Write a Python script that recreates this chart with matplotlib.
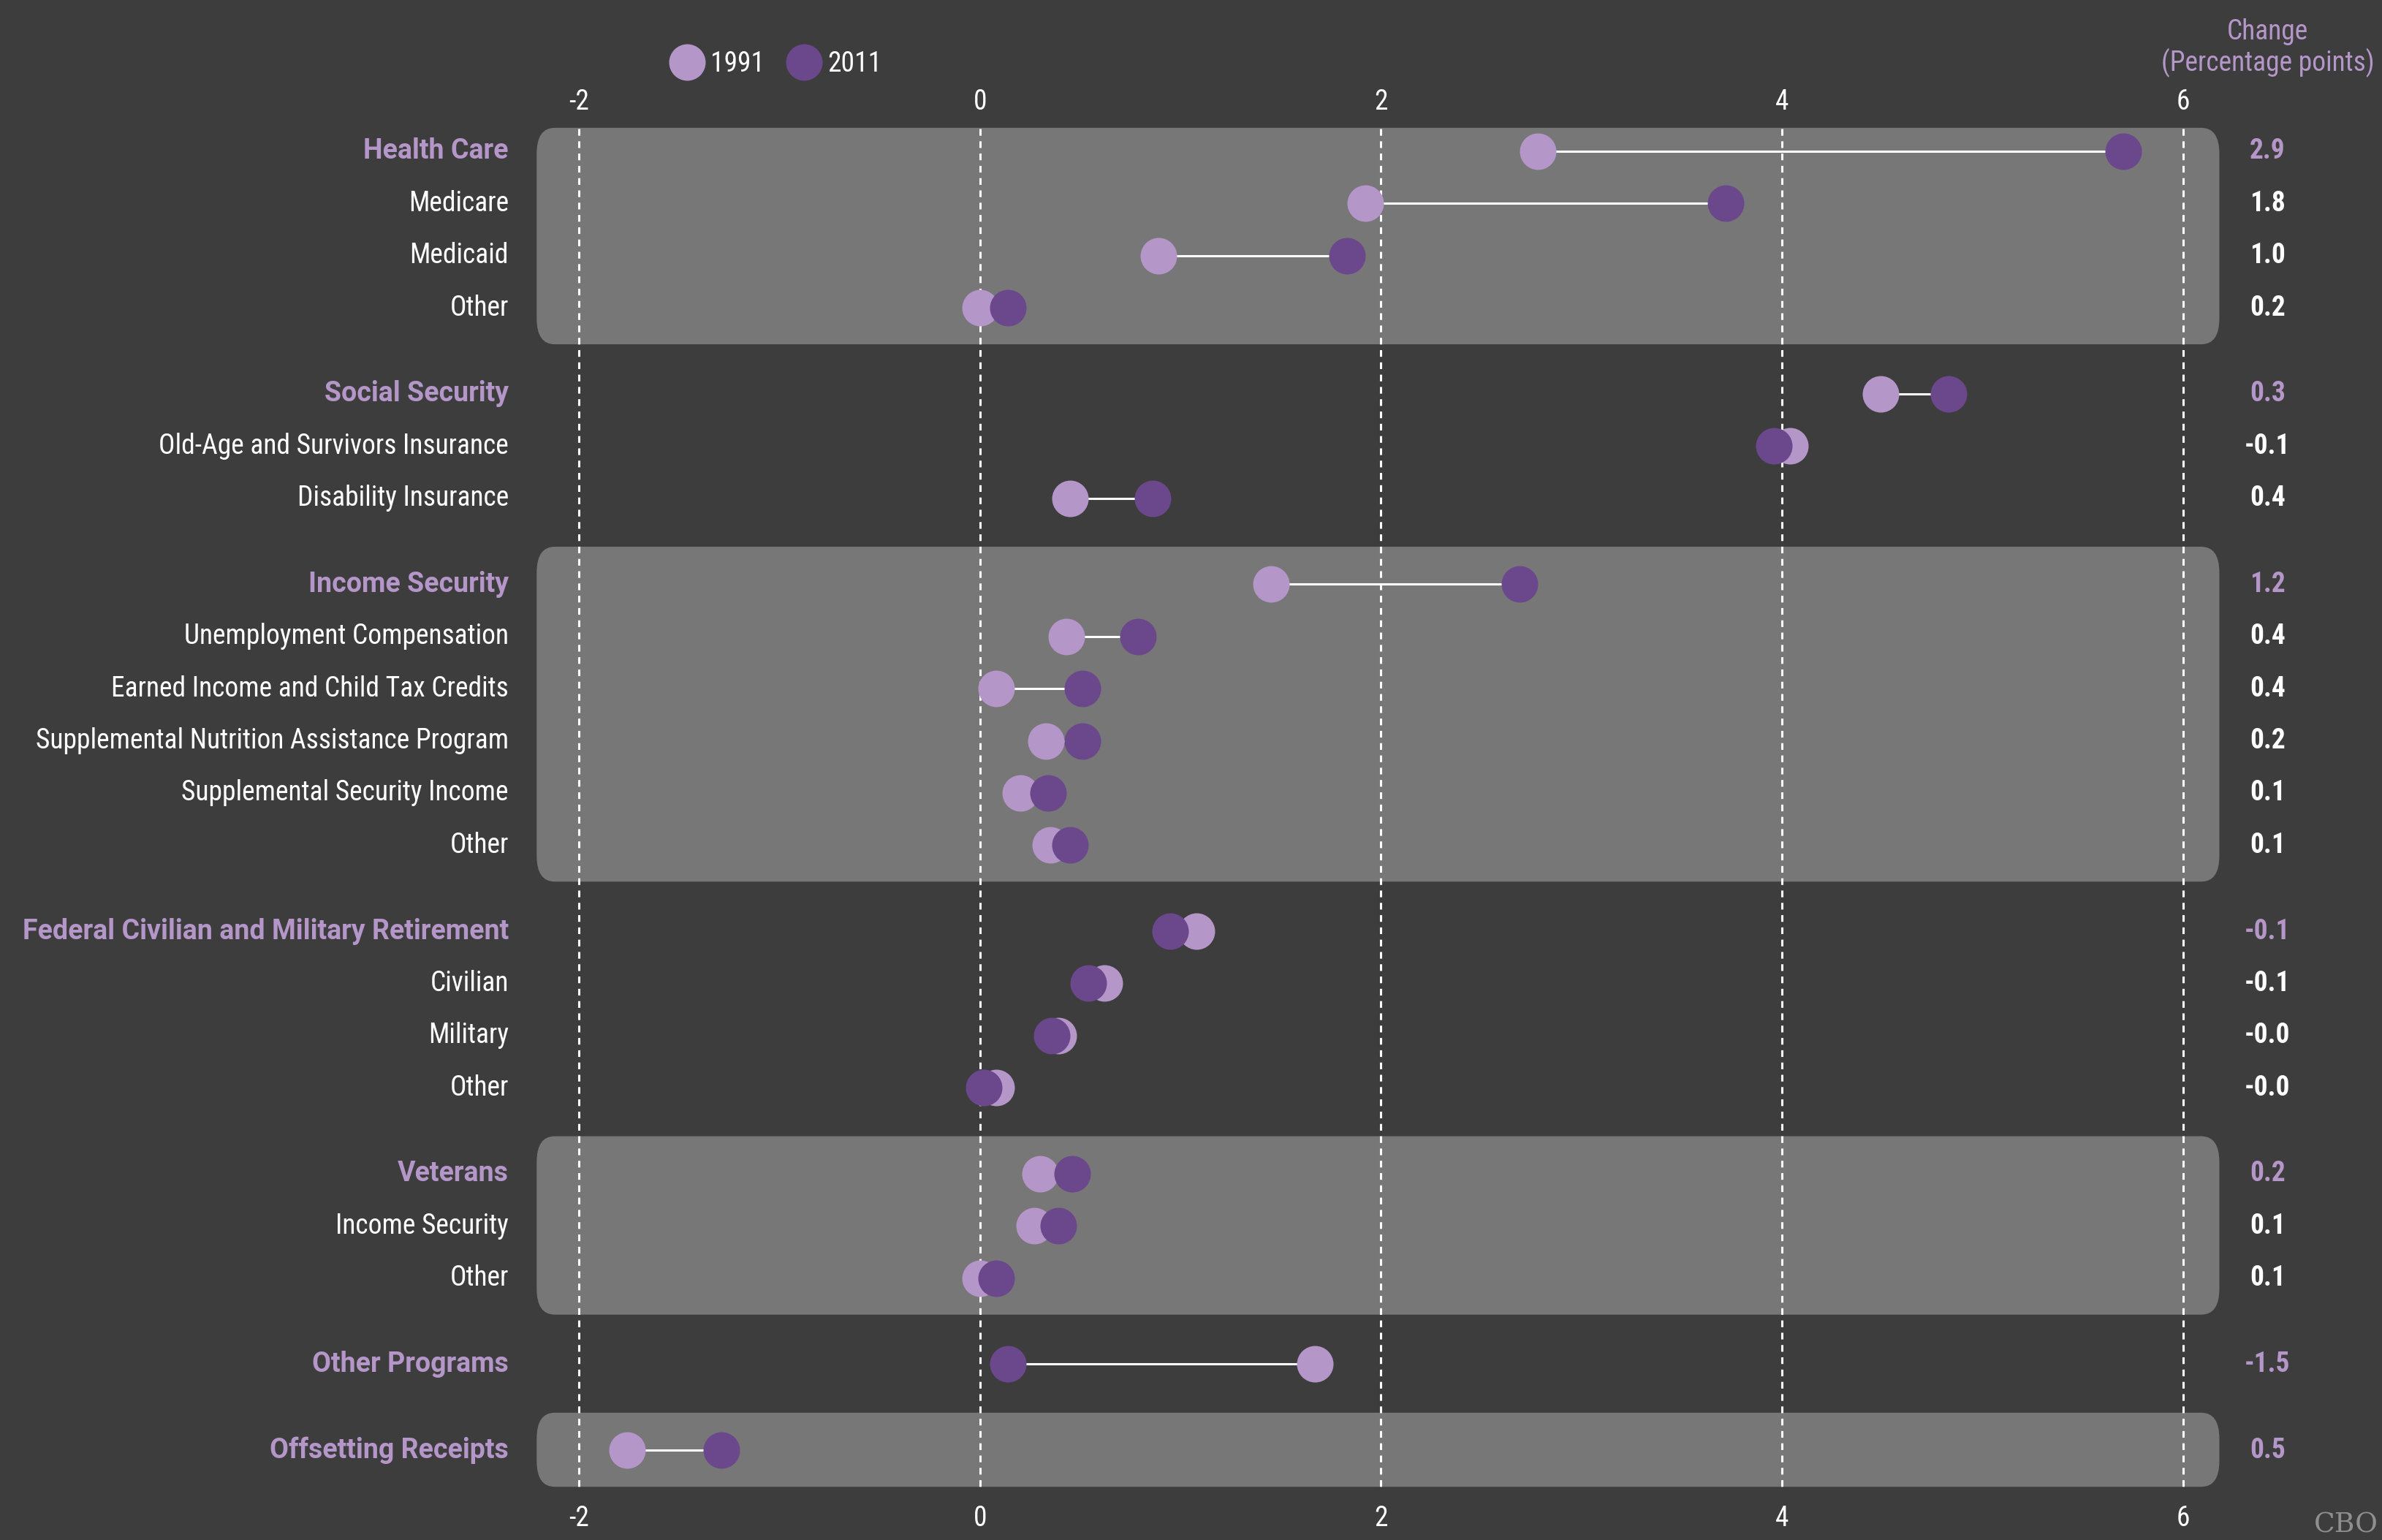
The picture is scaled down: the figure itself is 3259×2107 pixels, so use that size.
import matplotlib.pyplot as plt
from matplotlib.patches import FancyBboxPatch
from matplotlib.lines import Line2D

# programs grouped by category (first entry of each group is the header)
groups = [
    ["Health Care", "Medicare", "Medicaid", "Other"],
    ["Social Security", "Old-Age and Survivors Insurance", "Disability Insurance"],
    ["Income Security", "Unemployment Compensation", "Earned Income and Child Tax Credits",
     "Supplemental Nutrition Assistance Program", "Supplemental Security Income", "Other"],
    ["Federal Civilian and Military Retirement", "Civilian", "Military", "Other"],
    ["Veterans", "Income Security", "Other"],
    ["Other Programs"],
    ["Offsetting Receipts"],
]
shaded = [True, False, True, False, True, False, True]

# outlays as a share of GDP (percent)
v1991 = [2.78, 1.92, 0.89, 0.00,
         4.49, 4.04, 0.45,
         1.45, 0.43, 0.08, 0.33, 0.20, 0.35,
         1.08, 0.62, 0.39, 0.08,
         0.30, 0.27, 0.00,
         1.67,
         -1.76]
v2011 = [5.70, 3.72, 1.83, 0.14,
         4.83, 3.96, 0.86,
         2.69, 0.79, 0.51, 0.51, 0.34, 0.45,
         0.95, 0.54, 0.36, 0.02,
         0.46, 0.39, 0.08,
         0.14,
         -1.29]
change = ["2.9", "1.8", "1.0", "0.2",
          "0.3", "-0.1", "0.4",
          "1.2", "0.4", "0.4", "0.2", "0.1", "0.1",
          "-0.1", "-0.1", "-0.0", "-0.0",
          "0.2", "0.1", "0.1",
          "-1.5",
          "0.5"]
xticks = [-2, 0, 2, 4, 6]

BG = "#3d3d3d"
BAND = "#777777"
LIGHT = "#b496c8"
DARK = "#6b478b"
FONT = ["Roboto Condensed", "DejaVu Sans"]
HEAD_FONT = ["Roboto", "DejaVu Sans"]
FS = 13.5

# row positions: step 1 inside a group, larger gap between groups
GAP = 1.65
ypos, labels, is_head, spans = [], [], [], []
y = 0.0
for g in groups:
    start = y
    for i, name in enumerate(g):
        ypos.append(y)
        labels.append(name)
        is_head.append(i == 0)
        y += 1
    spans.append((start, y - 1))
    y += GAP - 1

fig = plt.figure(figsize=(16.295, 10.535), dpi=200, facecolor=BG)
ax = fig.add_axes([0, 0, 1, 1])
ax.set_facecolor(BG)
ax.set_xlim(-4.886, 6.991)
ax.set_ylim(26.62, -2.90)
ax.axis("off")

# shaded bands behind alternate groups
for (y0, y1), sh in zip(spans, shaded):
    if not sh:
        continue
    top = y0 - (0.45 if y0 == 0 else 0.72)
    bot = y1 + 0.7
    ax.add_patch(FancyBboxPatch((-2.21, top), 6.18 + 2.21, bot - top,
                                boxstyle="round,pad=0,rounding_size=0.09",
                                mutation_aspect=5.5, fc=BAND, ec="none", zorder=1))

# dashed gridlines
ax.vlines(xticks, -0.44, 25.6, colors="white", lw=1.1,
          linestyles=(0, (3, 2.5)), zorder=2)
for t in xticks:
    ax.text(t, -0.95, f"{t}", color="white", ha="center", va="center",
            family=FONT, fontsize=FS)
    ax.text(t, 26.2, f"{t}", color="white", ha="center", va="center",
            family=FONT, fontsize=FS)

# connectors and dots
for yy, a, b in zip(ypos, v1991, v2011):
    ax.plot([a, b], [yy, yy], color="white", lw=1.1, zorder=3)
ax.scatter(v1991, ypos, s=324, color=LIGHT, zorder=4, linewidths=0, label="1991")
ax.scatter(v2011, ypos, s=324, color=DARK, zorder=5, linewidths=0, label="2011")

# row labels and change column
for yy, lab, head, ch in zip(ypos, labels, is_head, change):
    col = LIGHT if head else "white"
    if head:
        ax.text(-2.35, yy, lab, color=col, ha="right", va="center",
                family=HEAD_FONT, fontsize=FS, fontweight="bold")
    else:
        ax.text(-2.35, yy, lab, color=col, ha="right", va="center",
                family=FONT, fontsize=FS)
    ax.text(6.42, yy, ch, color=col, ha="center", va="center", family=FONT,
            fontsize=FS, fontweight="bold")

ax.text(6.42, -1.98, "Change\n(Percentage points)", color=LIGHT, ha="center",
        va="center", family=FONT, fontsize=FS, linespacing=1.1)

handles = [Line2D([], [], marker="o", ls="none", ms=18, mfc=LIGHT, mec="none"),
           Line2D([], [], marker="o", ls="none", ms=18, mfc=DARK, mec="none")]
leg = ax.legend(handles, ["1991", "2011"], ncol=2, loc="center left",
                bbox_to_anchor=(0.277, 0.9586), frameon=False, handlelength=1.0,
                handletextpad=0.35, columnspacing=0.95, borderpad=0,
                prop={"family": FONT, "size": FS})
for t in leg.get_texts():
    t.set_color("white")

fig.text(0.9985, 0.005, "CBO", color="#8f8f8f", ha="right", va="baseline",
         family="DejaVu Serif", fontsize=13.5)

fig.savefig("out.png", dpi=200, facecolor=BG)
